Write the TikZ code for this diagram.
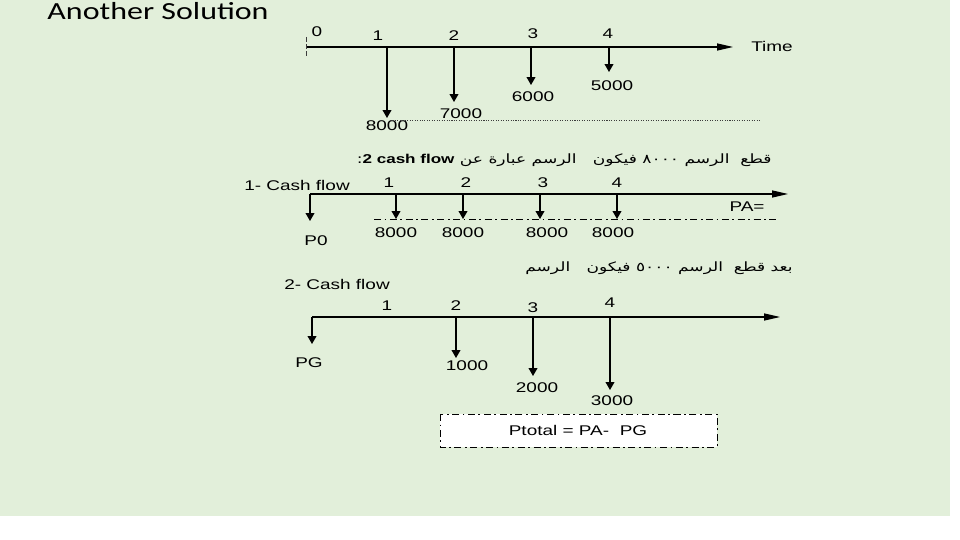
\documentclass[tikz,border=0pt]{standalone}
\usepackage{fontspec}
\setmainfont{Liberation Sans}
\newfontfamily\titlefont{Carlito}
\newfontfamily\arabicfont[Script=Arabic]{DejaVu Sans}
\TeXXeTstate=1
\usetikzlibrary{arrows.meta}
\definecolor{slidegreen}{RGB}{226,239,218}
\definecolor{inkgrey}{RGB}{60,60,60}

\begin{document}
\begin{tikzpicture}[x=0.02cm, y=-0.02cm,
    lbl/.style={font=\fontsize{8}{9}\selectfont, xscale=1.35, inner sep=0pt},
    arlbl/.style={font=\arabicfont\fontsize{7.3}{8}\selectfont, xscale=1.33, inner sep=0pt},
    axis/.style={line width=0.6pt, -{Triangle[length=9pt,width=4pt]}},
    flow/.style={line width=0.6pt, -{Triangle[length=4.5pt,width=5pt]}},
    dashdot/.style={line width=0.5pt, dash pattern=on 4pt off 2pt on 1pt off 2pt}]
  \useasboundingbox (0,0) rectangle (960,540);
  \fill[slidegreen] (0,0) rectangle (950,516);
  \node[anchor=base west, inner sep=0pt, font=\titlefont\fontsize{14}{16}\selectfont, xscale=1.3]
    (title) at (47,20) {Another Solution};

  % Time line
  \coordinate (t0) at (306,47);
  \coordinate (tend) at (733,47);
  \draw[axis] (t0) -- (tend);
  \draw[inkgrey, line width=0.5pt, dash pattern=on 3pt off 1pt] (306,37) -- (306,58);
  \node[lbl] (n0) at (317,32) {0};
  \node[lbl] (time) at (772,46) {Time};
  \foreach \i/\x/\ty/\v/\vx/\vy/\nx/\ny in {1/387/118/8000/387/126/378/36,
                                              2/454/102/7000/461/114/454/36,
                                              3/531/85/6000/533/97/533/34,
                                              4/609/72/5000/612/86/608/34}{
    \node[lbl] (n\i) at (\nx,\ny) {\i};
    \coordinate (t\i) at (\x,47);
    \coordinate (d\i) at (\x,\ty);
    \draw[flow] (t\i) -- (d\i);
    \node[lbl] (v\i) at (\vx,\vy) {\v};
  }
  \coordinate (dotend) at (760,120);
  \draw[inkgrey, line width=0.4pt, dash pattern=on 0.6pt off 0.8pt] (d1) ++(3,2) -- (dotend);

  % Arabic note 1
  \node[arlbl, anchor=east] (note1) at (772,160)
    {\beginR قطع\ \ الرسم \beginL ٨٠٠٠\endL{} فيكون\ \ \ الرسم عبارة عن \beginL{\rmfamily\bfseries 2 cash flow}\endL{}:\endR};

  % 1- Cash flow
  \node[lbl] (cf1) at (297,185) {1- Cash flow};
  \coordinate (a0) at (310,194);
  \coordinate (aend) at (788,194);
  \draw[axis] (a0) -- (aend);
  \coordinate (p0tip) at (310,221);
  \draw[flow] (a0) -- (p0tip);
  \node[lbl] (p0) at (316,241) {P0};
  \foreach \i/\x/\vx/\nx in {1/396/396/389, 2/463/463/466, 3/540/547/543, 4/617/613/617}{
    \node[lbl] (m\i) at (\nx,183) {\i};
    \coordinate (a\i) at (\x,194);
    \coordinate (e\i) at (\x,219);
    \draw[flow] (a\i) -- (e\i);
    \node[lbl] (w\i) at (\vx,233) {8000};
  }
  \coordinate (pastart) at (374,219);
  \coordinate (paend) at (778,219);
  \draw[dashdot] (pastart) -- (paend);
  \node[lbl] (pa) at (747,207) {PA=};

  % Arabic note 2
  \node[arlbl, anchor=east] (note2) at (793,268)
    {\beginR بعد قطع\ \ الرسم \beginL ٥٠٠٠\endL{} فيكون\ \ \ الرسم\endR};

  % 2- Cash flow
  \node[lbl] (cf2) at (337,284) {2- Cash flow};
  \coordinate (b0) at (312,317);
  \coordinate (bend) at (780,317);
  \draw[axis] (b0) -- (bend);
  \coordinate (pgtip) at (312,344);
  \draw[flow] (b0) -- (pgtip);
  \node[lbl] (pg) at (309,363) {PG};
  \node[lbl] (k1) at (387,306) {1};
  \foreach \i/\x/\ty/\v/\vx/\vy/\ny in {2/456/358/1000/467/366/306,
                                         3/533/376/2000/537/388/308,
                                         4/610/390/3000/612/401/303}{
    \node[lbl] (k\i) at (\x,\ny) {\i};
    \coordinate (b\i) at (\x,317);
    \coordinate (f\i) at (\x,\ty);
    \draw[flow] (b\i) -- (f\i);
    \node[lbl] (u\i) at (\vx,\vy) {\v};
  }

  % Result box
  \draw[dashdot, fill=white] (440,414) rectangle (717,447);
  \node[lbl] (ptotal) at (578,430) {Ptotal = PA-\ \ PG};
\end{tikzpicture}
\end{document}
